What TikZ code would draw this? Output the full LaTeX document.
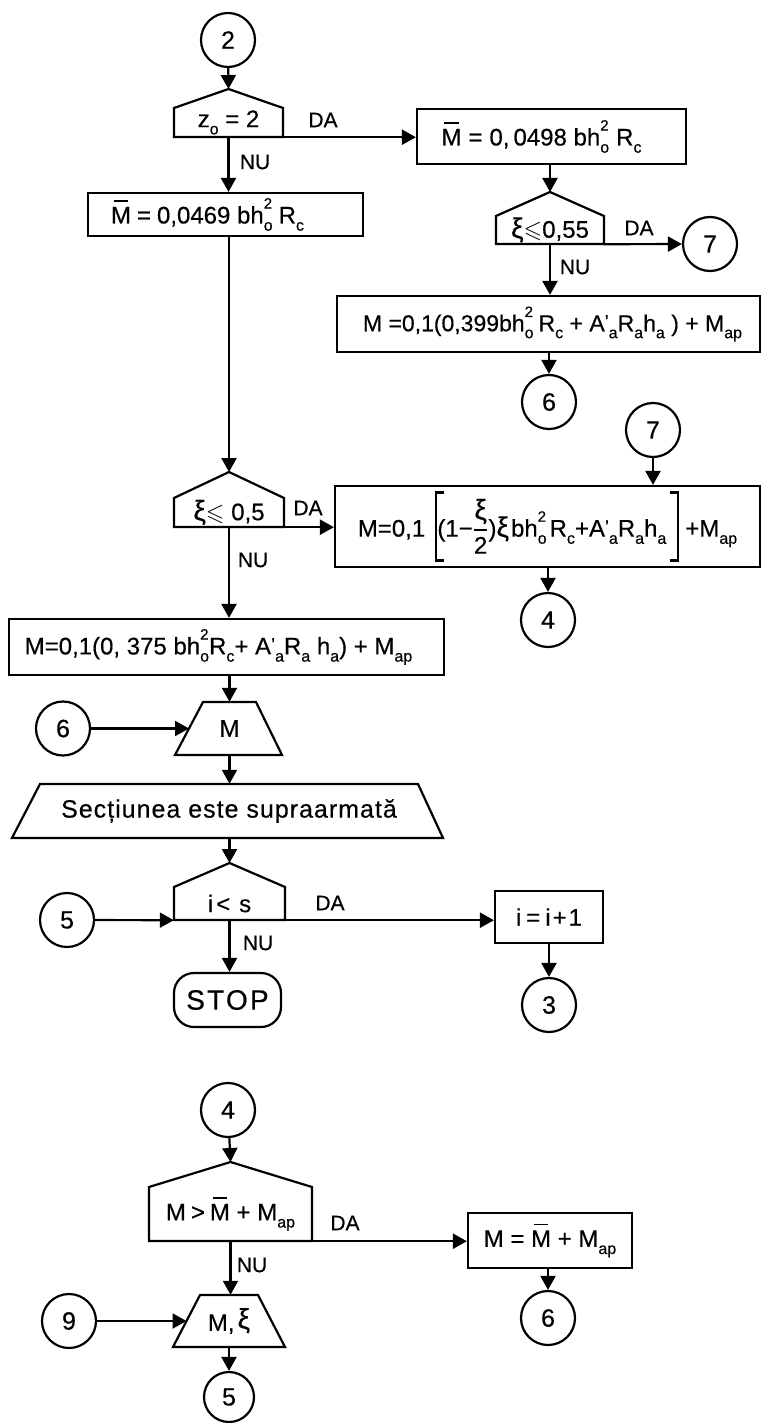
\documentclass[tikz,border=0pt]{standalone}
\usepackage{fontspec}
\usepackage{amsmath,amssymb}
\setmainfont{Liberation Sans}[FakeBold=0.4]
\usetikzlibrary{arrows.meta}
\newcommand\lo[1]{\raisebox{-0.3em}{\fontsize{16}{16}\selectfont #1}}
\newcommand\hi[1]{\raisebox{0.62em}{\fontsize{15}{15}\selectfont #1}}
\newcommand\lohi[2]{\rlap{\hi{#2}}\lo{#1}}
\newcommand\pr[1]{\raisebox{0.16em}{\fontsize{18}{18}\selectfont ’}\lo{#1}}
\newcommand\Mbar{\leavevmode\rlap{\hspace{0.12em}\rule[0.9em]{0.6em}{1.6pt}}M}
\newcommand\xib{{\fontsize{28}{28}\selectfont ξ}}
\newcommand\lbrk{\rlap{\rule[-25pt]{9pt}{2.2pt}}\rlap{\rule[43pt]{9pt}{2.2pt}}\rule[-25pt]{2.2pt}{70pt}}
\newcommand\rbrk{\rule[-25pt]{9pt}{2.2pt}\llap{\rule[43pt]{9pt}{2.2pt}}\llap{\rule[-25pt]{2.2pt}{70pt}}}
\newcommand\decision[7]{%
  \draw[ln] (#2,#6) -- (#2,#5) -- ({(#2+#3)/2},#4) -- (#3,#5) -- (#3,#6) -- cycle;
  \node[inner sep=0pt, minimum width={(#3)-(#2)}, minimum height={(#6)-(#5)}] (#1) at ({(#2+#3)/2},{(#5+#6)/2}) {#7};
  \coordinate (#1-top) at ({(#2+#3)/2},#4);}
\newcommand\trap[8]{%
  \draw[ln] (#2,#6) -- (#3,#6) -- (#5,#7) -- (#4,#7) -- cycle;
  \node[inner sep=0pt, minimum width={(#3)-(#2)}, minimum height={(#7)-(#6)}] (#1) at ({(#2+#3)/2},{(#6+#7)/2}) {#8};
  \coordinate (#1-left) at ({(#2+#4)/2},{(#6+#7)/2});}
\begin{document}
\begin{tikzpicture}[x=1pt,y=-1pt,
  every node/.style={font=\fontsize{24}{28}\selectfont},
  ln/.style={line width=2.2pt, line join=miter},
  arr/.style={ln, -{Triangle[length=14pt,width=15pt]}},
  conn/.style={circle, draw, ln, minimum size=54pt, inner sep=0pt, font=\fontsize{25}{28}\selectfont},
  box/.style={draw, ln, inner sep=0pt},
  lab/.style={inner sep=0pt, font=\fontsize{21}{24}\selectfont}]
\useasboundingbox (0,0) rectangle (763,1423);

% ---- top part
\node[conn] (c2) at (228,40) {2};
\decision{d1}{174}{283}{89}{108}{137}{z\lo{o} = 2}
\node[box, minimum width=275, minimum height=43] (b1) at (225.5,214.5) {\Mbar{}\hspace{6pt}=\hspace{6pt}0,0469 bh\lohi{o}{2}\hspace{6pt}R\lo{c}\mbox{}\hspace{36pt}\mbox{}};
\node[box, minimum width=269, minimum height=55] (b2) at (551.5,136.5) {\Mbar{}\hspace{7pt}=\hspace{7pt}0,\,0498 bh\lohi{o}{2}\hspace{7pt}R\lo{c}\mbox{}\hspace{20pt}\mbox{}};
\decision{d2}{496}{604}{192}{216}{244}{\xib$\leqslant$0,55}
\node[conn] (c7a) at (710,244) {7};
\node[box, minimum width=423, minimum height=56, font=\fontsize{23}{27}\selectfont] (b3) at (548.5,324) {\mbox{}\hspace{8pt}M =0,1(0,399bh\lohi{o}{2}\hspace{5pt}R\lo{c} + A\pr{a}R\lo{a}h\lo{a} ) + M\lo{ap}};
\node[conn] (c6a) at (549,402) {6};
\node[conn] (c7b) at (653,430) {7};

\decision{d3}{174}{284}{472}{498}{527}{\xib$\leqslant$ 0,5}
\node[box, minimum width=425, minimum height=81] (b4) at (547.5,526.5) {M=0,1\hspace{10pt}\lbrk(1−$\genfrac{}{}{1.8pt}{0}{\mbox{\xib}}{\mbox{2}}$)\xib\hspace{2pt}bh\lohi{o}{2}\hspace{3pt}R\lo{c}+A\pr{a}R\lo{a}h\lo{a}\hspace{4pt}\rbrk\hspace{6pt}+M\lo{ap}};
\node[conn] (c4a) at (548,620) {4};
\node[box, minimum width=435, minimum height=56] (b5) at (226.5,647) {M=0,1(0, 375 bh\lohi{o}{2}R\lo{c}+ A\pr{a}R\lo{a} h\lo{a}) + M\lo{ap}\mbox{}\hspace{16pt}\mbox{}};
\trap{t1}{203}{256}{175}{282}{702}{755}{M}
\node[conn] (c6b) at (63,728.5) {6};
\trap{t2}{40}{418}{12}{443}{784}{838}{\fontsize{25}{28}\selectfont\addfontfeatures{LetterSpace=4}Secțiunea este supraarmată}
\decision{d4}{174}{285}{863}{887}{920}{i\hspace{3pt}<\hspace{9pt}s}
\node[conn] (c5a) at (67,920) {5};
\node[box, minimum width=108, minimum height=52] (b6) at (549,917) {i\hspace{5pt}=\hspace{5pt}i\hspace{2pt}+\hspace{2pt}1};
\node[conn] (c3) at (549,1005) {3};
\node[draw, ln, rounded corners=20pt, minimum width=107, minimum height=54, inner sep=0pt, font=\fontsize{28}{30}\selectfont\addfontfeatures{LetterSpace=8}] (stop) at (227.5,1000) {STOP};

% ---- bottom part
\node[conn] (c4b) at (228,1110) {4};
\decision{d5}{149}{312}{1162}{1187}{1241}{M\hspace{5pt}>\hspace{5pt}\Mbar{} + M\lo{ap}}
\node[box, minimum width=164, minimum height=55] (b7) at (550,1240.5) {M = \Mbar{} + M\lo{ap}};
\node[conn] (c6c) at (548,1318) {6};
\trap{t3}{200}{258}{173}{285}{1295}{1347}{M,\hspace{3pt}\raisebox{0.1em}{\xib}}
\node[conn] (c9) at (69,1321) {9};
\node[conn, minimum size=50pt] (c5b) at (229,1397) {5};

% ---- labels
\node[lab] (l1) at (323,120) {DA};
\node[lab] (l2) at (255,162) {NU};
\node[lab] (l3) at (639,228) {DA};
\node[lab] (l4) at (575,267) {NU};
\node[lab] (l5) at (308,508) {DA};
\node[lab] (l6) at (253,560) {NU};
\node[lab] (l7) at (330,903) {DA};
\node[lab] (l8) at (258,943) {NU};
\node[lab] (l9) at (345,1223) {DA};
\node[lab] (l10) at (252,1265) {NU};

% ---- connectors
\draw[arr] (c2) -- (d1-top);
\draw[arr] (d1.south east) -- (d1.south east -| b2.west);
\draw[arr] (d1.south) -- (d1.south |- b1.north);
\draw[arr] (d2-top |- b2.south) -- (d2-top);
\draw[arr] (d2.south east) -- (c7a);
\draw[arr] (d2.south) -- (d2.south |- b3.north);
\draw[arr] (c6a |- b3.south) -- (c6a);
\draw[arr] (d3-top |- b1.south) -- (d3-top);
\draw[arr] (c7b) -- (c7b |- b4.north);
\draw[arr] (d3.south east) -- (d3.south east -| b4.west);
\draw[arr] (c4a |- b4.south) -- (c4a);
\draw[arr] (d3.south) -- (d3.south |- b5.north);
\draw[arr] (t1.north |- b5.south) -- (t1.north);
\draw[arr] (c6b) -- (t1-left);
\draw[arr] (t1.south) -- (t2.north -| t1.south);
\draw[arr] (t2.south -| d4-top) -- (d4-top);
\draw[arr] (c5a) -- (d4.south west);
\draw[arr] (d4.south east) -- (d4.south east -| b6.west);
\draw[arr] (c3 |- b6.south) -- (c3);
\draw[arr] (d4.south) -- (d4.south |- stop.north);
\draw[arr] (c4b) -- (d5-top);
\draw[arr] (d5.south east) -- (d5.south east -| b7.west);
\draw[arr] (c6c |- b7.south) -- (c6c);
\draw[arr] (d5.south) -- (d5.south |- t3.north);
\draw[arr] (c9) -- (t3-left);
\draw[arr] (t3.south) -- (c5b);
\end{tikzpicture}
\end{document}
